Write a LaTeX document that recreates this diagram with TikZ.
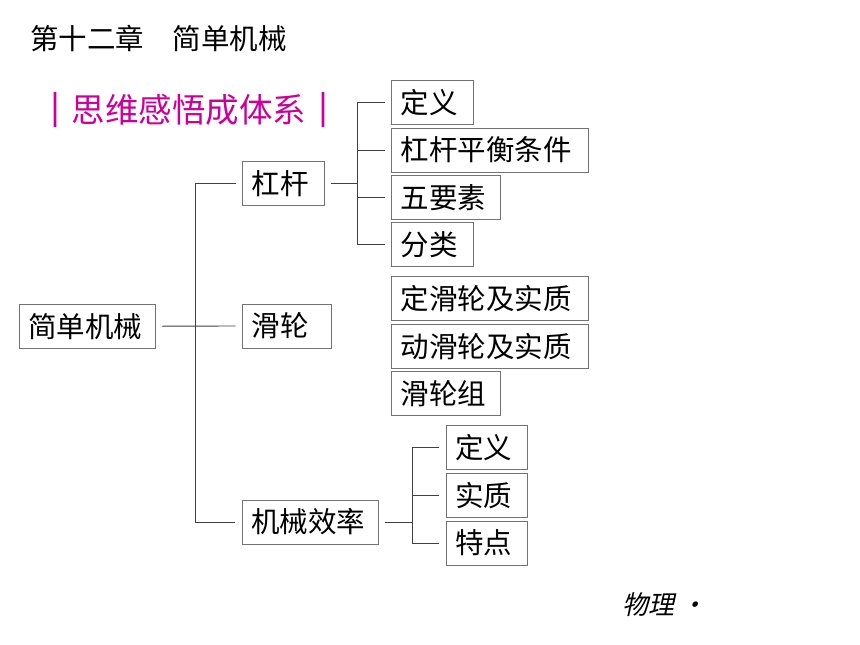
\documentclass[tikz,border=0pt]{standalone}
\usepackage{fontspec}
\newfontfamily\cjk{Noto Sans CJK SC}
\newfontfamily\cjkbar[FakeBold=4]{Noto Sans CJK SC}
\newfontfamily\cjkit[FakeSlant=0.22]{Noto Sans CJK SC}
\definecolor{headpink}{RGB}{204,0,153}

\begin{document}
\begin{tikzpicture}[x=1pt, y=-1pt,
		box/.style={draw=black!55, line width=0.9pt, minimum height=44pt,
			inner xsep=9pt, inner ysep=0pt, outer xsep=7pt, outer ysep=0pt,
			align=left, text width=#1, font=\cjk\fontsize{28.5}{30}\selectfont},
		link/.style={draw=black!75, line width=0.9pt}]
			\useasboundingbox (0,0) rectangle (860,645);

			% Chapter title and heading
			\node[anchor=west, inner sep=0pt, font=\cjk\fontsize{28.5}{30}\selectfont] (title) at (30,38) {第十二章　简单机械};
			\node[anchor=west, inner sep=0pt, text=headpink, font=\cjk\fontsize{33.5}{36}\selectfont] (head) at (38,109.5)
				{{\cjkbar ｜}思维感悟成体系{\cjkbar ｜}};

			% Root and main branches
			\node[box=117.7pt] (root) at (87.2,326.2) {简单机械};
			\node[box=63.3pt] (lever) at (283.3,183.7) {杠杆};
			\node[box=70.3pt] (pulley) at (286.8,326) {滑轮};
			\node[box=118pt] (effic) at (310.3,522) {机械效率};

			% Lever items
			\node[box=63.6pt] (lvDef) at (432.5,102.5) {定义};
			\node[box=178.6pt] (lvCond) at (490,150) {杠杆平衡条件};
			\node[box=90.6pt] (lvFive) at (446,197.5) {五要素};
			\node[box=63.6pt] (lvKind) at (432.5,244.7) {分类};

			% Pulley items
			\node[box=178.6pt] (plFix) at (490,298.7) {定滑轮及实质};
			\node[box=178.6pt] (plMov) at (490,346.3) {动滑轮及实质};
			\node[box=90.3pt] (plSet) at (445.8,393.7) {滑轮组};

			% Efficiency items
			\node[box=63.3pt] (efDef) at (486.7,447.5) {定义};
			\node[box=63.3pt] (efEss) at (486.7,495.3) {实质};
			\node[box=63.3pt] (efFeat) at (486.7,543) {特点};

			% Main tree
			\coordinate (trunk) at (195.7,326);
			\draw[link] (root.east) -- (pulley.west);
			\draw[link] (lever.west) -| (trunk) |- (effic.west);

			% Lever bracket
			\coordinate (lvJoin) at (357.7,183.7);
			\draw[link] (lever.east) -- (lvJoin);
			\draw[link] (lvDef.west) -| (lvJoin) |- (lvKind.west);
			\draw[link] (lvJoin |- lvCond.west) -- (lvCond.west);
			\draw[link] (lvJoin |- lvFive.west) -- (lvFive.west);

			% Efficiency bracket
			\coordinate (efJoin) at (412.3,522);
			\draw[link] (effic.east) -- (efJoin);
			\draw[link] (efDef.west) -| (efJoin) |- (efFeat.west);
			\draw[link] (efJoin |- efEss.west) -- (efEss.west);

			% Footer
			\node[anchor=west, inner sep=0pt, font=\cjkit\fontsize{26}{28}\selectfont] (foot) at (622,605) {物理 •};
		\end{tikzpicture}
\end{document}
